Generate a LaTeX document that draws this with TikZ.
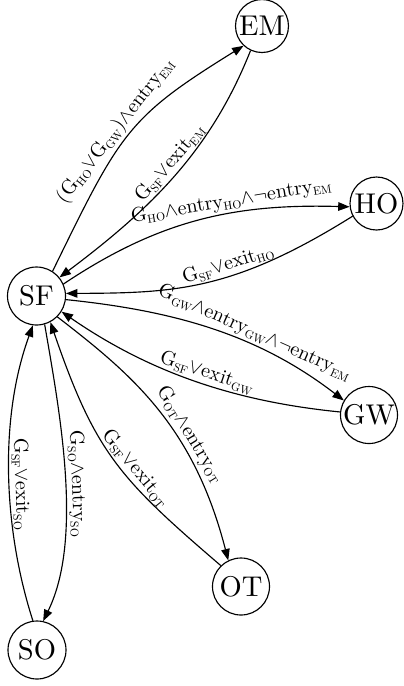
\documentclass[tikz,border=0pt]{standalone}
\usepackage{graphicx}
\usetikzlibrary{arrows.meta}
\newcommand{\sbs}[1]{\raisebox{-1.6pt}{\scalebox{0.58}{#1}}}
\newcommand{\gs}[1]{G\sbs{#1}}
\newcommand{\en}[1]{entry\sbs{#1}}
\newcommand{\ex}[1]{exit\sbs{#1}}
\newcommand{\myor}{$\vee$}
\newcommand{\myand}{$\wedge$}
\newcommand{\mynot}{$\neg$}
\newcommand{\lbl}[1]{\scalebox{0.705}{#1}}
\begin{document}
\begin{tikzpicture}[x=0.35pt,y=-0.35pt,
  st/.style={draw, circle, inner sep=0pt, font=\fontsize{10}{12}\selectfont, line width=0.4pt},
  tr/.style={line width=0.4pt, -{Triangle[length=4pt,width=3pt]}},
  rt/.style={line width=0.4pt, {Triangle[length=4pt,width=3pt]}-},
  lb/.style={sloped, above, inner sep=0.8pt, font=\fontsize{10}{12}\selectfont}]
\useasboundingbox (0,0) rectangle (404,686);
\node[st, minimum size=18.55pt] (EM) at (262,26) {EM};
\node[st, minimum size=18.55pt] (HO) at (376.5,203.5) {HO};
\node[st, minimum size=20.3pt] (SF) at (36.5,296) {SF};
\node[st, minimum size=19.95pt] (GW) at (369,415) {GW};
\node[st, minimum size=19.95pt] (OT) at (241,586.5) {OT};
\node[st, minimum size=20.3pt] (SO) at (37,650) {SO};
% SF -> EM
\draw[tr] (SF.57.6) .. controls (120.6,132) and (127.4,117.7) .. (EM.227.9)
  node[lb, pos=.47] {\lbl{(\gs{HO}\myor\gs{GW})\myand\en{EM}}};
% EM -> SF
\draw[tr] (EM.245.2) .. controls (211,150) and (152,208) .. (SF.39.5)
  node[lb, pos=.48] {\lbl{\gs{SF}\myor\ex{EM}}};
% SF -> HO
\draw[tr] (SF.24.7) .. controls (160.1,219.4) and (235.6,203.6) .. (HO.187.5)
  node[lb, pos=.62] {\lbl{\gs{HO}\myand\en{HO}\myand\mynot\en{EM}}};
% HO -> SF
\draw[tr] (HO.208.7) .. controls (233,291) and (175,293) .. (SF.5.6)
  node[lb, pos=.4] {\lbl{\gs{SF}\myor\ex{HO}}};
% SF -> GW
\draw[tr] (SF.-7.5) .. controls (177,311) and (259.7,335.6) .. (GW.150)
  node[lb, pos=.63] {\lbl{\gs{GW}\myand\en{GW}\myand\mynot\en{EM}}};
% GW -> SF
\draw[tr] (GW.174.1) .. controls (235.7,401.6) and (150,372.8) .. (SF.-32.7)
  node[lb, pos=.47] {\lbl{\gs{SF}\myor\ex{GW}}};
% SF -> OT
\draw[tr] (SF.-45) .. controls (132.4,374.8) and (193.6,426.1) .. (OT.116.2)
  node[lb, pos=.63] {\lbl{\gs{OT}\myand\en{OT}}};
% OT -> SF
\draw[tr] (OT.134.4) .. controls (118.6,478) and (95.1,452) .. (SF.-62)
  node[lb, pos=.42] {\lbl{\gs{SF}\myor\ex{OT}}};
% SF -> SO
\draw[tr] (SF.-74.6) .. controls (59.8,412) and (83.5,539) .. (SO.78.7)
  node[lb, allow upside down, pos=.53] {\lbl{\gs{SO}\myand\en{SO}}};
% SO -> SF
\draw[rt] (SF.263.6) .. controls (-1.8,420.4) and (4.1,531.5) .. (SO.98.6)
  node[lb, allow upside down, pos=.53] {\lbl{\gs{SF}\myor\ex{SO}}};
\end{tikzpicture}
\end{document}
